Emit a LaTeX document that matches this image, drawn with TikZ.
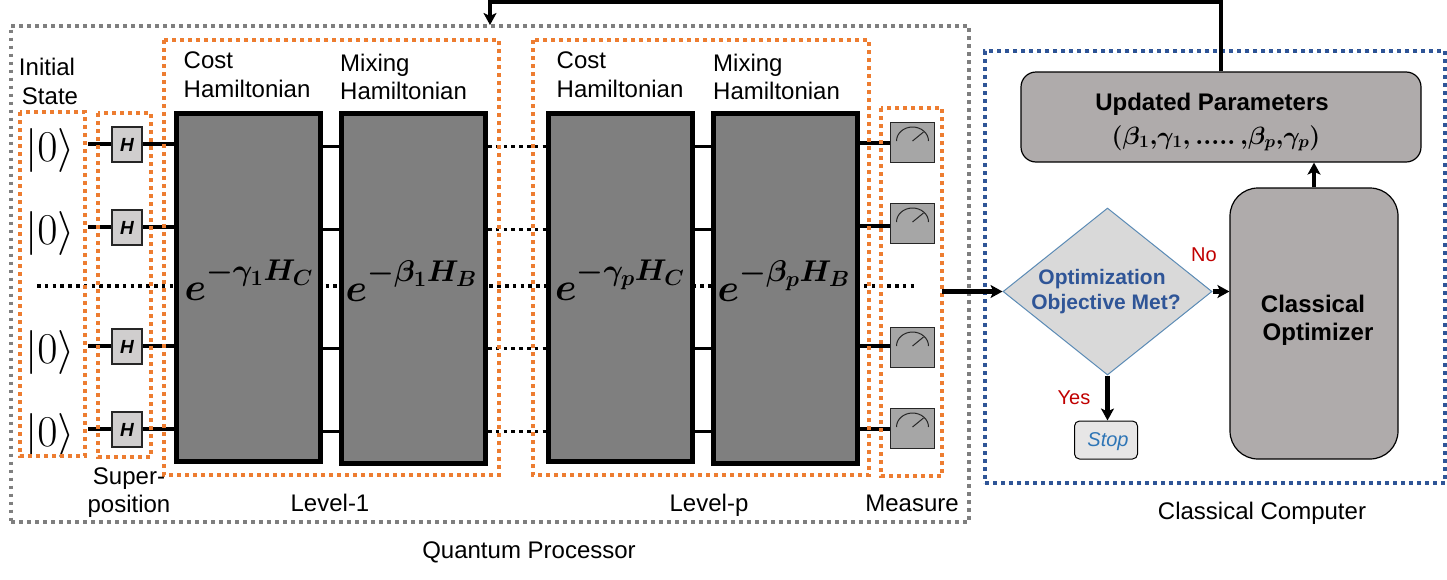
\documentclass[tikz,border=0pt]{standalone}
\usepackage{fix-cm}
\usepackage{fontspec}
\usepackage{amsmath}
\setmainfont{Liberation Sans}
\usetikzlibrary{arrows.meta,shapes.geometric}
\definecolor{orng}{HTML}{ED7D31}
\definecolor{grayd}{HTML}{7F7F7F}
\definecolor{blued}{HTML}{2F5597}
\definecolor{optgray}{HTML}{AFABAB}
\definecolor{gategray}{HTML}{D0CECE}
\definecolor{metergray}{HTML}{A6A6A6}
\definecolor{steel}{HTML}{5B8BB5}
\definecolor{stopblue}{HTML}{2E75B6}
\definecolor{stopfill}{HTML}{E7E6E6}
\definecolor{darkred}{HTML}{C00000}
\newcommand{\fs}[1]{\fontsize{#1}{#1}\selectfont}
\DeclareMathSizes{39}{39}{30}{22}
\newcommand{\hexp}[1]{$\boldsymbol{e}^{\raisebox{5pt}{$\scriptstyle\boldsymbol{#1}$}}$}
\tikzset{
 x=1pt,y=-1pt,
 orangebox/.style={draw=orng,line width=3.6pt,dash pattern=on 3.6pt off 4.4pt},
 graybox/.style={draw=grayd,line width=3.6pt,dash pattern=on 3.6pt off 4.4pt},
 bluebox/.style={draw=blued,line width=3.6pt,dash pattern=on 3.6pt off 4.4pt},
 hambox/.style={draw=black,line width=5pt,fill=grayd,minimum width=144pt,minimum height=348pt,inner sep=0pt},
 mixbox/.style={hambox,minimum height=350pt},
 gatebox/.style={draw=black!85,line width=2.4pt,fill=gategray,minimum width=30pt,minimum height=35pt,inner sep=0pt,font=\fs{19}\bfseries\itshape},
 meterbox/.style={draw=black!85,line width=1pt,fill=metergray,minimum width=44pt,minimum height=40pt,inner sep=0pt},
 wire/.style={draw=black,line width=3.5pt},
 dotwire/.style={draw=black,line width=3.4pt,dash pattern=on 3.6pt off 4.2pt},
 lbl/.style={inner sep=0pt,font=\fs{24},anchor=base},
 lblw/.style={inner sep=0pt,font=\fs{24},anchor=base west},
 ket/.style={inner sep=0pt,font=\fs{44},anchor=base},
 expr/.style={inner sep=0pt,font=\fs{39},text=black,anchor=base},
 flow/.style={draw=black,line width=4.2pt,-{Stealth[length=12pt,width=13pt,inset=3pt]}},
 procbox/.style={draw=black,line width=1.2pt,fill=optgray,inner sep=0pt},
 bold24/.style={inner sep=0pt,font=\fs{24}\bfseries,anchor=base},
 decisiontext/.style={inner sep=0pt,font=\fs{21}\bfseries,text=blued,anchor=base},
 answer/.style={inner sep=0pt,font=\fs{20},text=darkred,anchor=base},
}
\begin{document}
\begin{tikzpicture}
\useasboundingbox (0,0) rectangle (1447,579);
% dotted centre wire behind everything
\coordinate (dl) at (37,286);
\coordinate (dr) at (915,286);
\draw[dotwire] (dl) -- (dr);
% containers
\node[graybox,minimum width=958pt,minimum height=496pt,inner sep=0pt] (qp) at (490,273.7) {};
\node[bluebox,minimum width=460pt,minimum height=432pt,inner sep=0pt] (cc) at (1215,267) {};
% hamiltonian blocks
\node[hambox] (c1) at (248.5,287) {};
\node[mixbox] (m1) at (413.5,288) {};
\node[hambox] (cp) at (620.5,287) {};
\node[mixbox] (mp) at (785.5,288) {};
\node[expr] (e1) at (249,300) {\hexp{-\gamma_1 H_C}};
\node[expr] (e2) at (411.5,301) {\hexp{-\beta_1 H_B}};
\node[expr] (e3) at (620,300) {\hexp{-\gamma_p H_C}};
\node[expr] (e4) at (784,301) {\hexp{-\beta_p H_B}};
% kets and gates
\foreach \n/\y/\yb/\ym in {a/144/146.7/143,b/227/229.7/226,c/346/348.7/346,d/429/431.7/429}{
  \node[ket] (k\n) at (50,\y+17) {$|0\rangle$};
  \coordinate (ks\n) at (88,\y);
  \node[gatebox] (h\n) at (127,\y+.5) {H};
  \draw[wire] (ks\n) -- (ks\n -| h\n.west);
  \draw[wire] (h\n.east |- ks\n) -- (c1.west |- ks\n);
  \draw[wire] (c1.east |- 0,\yb) -- (m1.west |- 0,\yb);
  \draw[wire] (cp.east |- 0,\yb) -- (mp.west |- 0,\yb);
  \draw[dotwire] (m1.east |- 0,\yb) -- (cp.west |- 0,\yb);
  \coordinate (ws\n) at (890,\ym);
  \draw[wire] (mp.east |- ws\n) -- (ws\n);
}
% meters
\foreach \n/\y in {a/142,b/223,c/347,d/428}{
  \node[meterbox] (w\n) at (912.5,\y) {};
  \draw[draw=black!85,line width=1pt] ([shift={(-16,-1)}]w\n.center) arc[start angle=180,end angle=0,x radius=16pt,y radius=14pt];
  \draw[draw=black!85,line width=1pt] ([shift={(0,-1)}]w\n.center) -- ([shift={(11,-10)}]w\n.center);
}
% orange groups
\draw[orangebox] (20,112) rectangle (85,456);
\draw[orangebox] (98,113) rectangle (151,457);
\draw[orangebox] (164,40) rectangle (499,475);
\draw[orangebox] (533,40) rectangle (869,475);
\draw[orangebox] (881,108) rectangle (942,476);
% labels
\node[lbl] (l1) at (47,75) {Initial};
\node[lbl] (l2) at (50,104) {State};
\node[lblw] (l3) at (183.5,68) {Cost};
\node[lblw] (l4) at (183.5,97) {Hamiltonian};
\node[lblw] (l5) at (340,71) {Mixing};
\node[lblw] (l6) at (340,99) {Hamiltonian};
\node[lblw] (l7) at (556.5,68) {Cost};
\node[lblw] (l8) at (556.5,97) {Hamiltonian};
\node[lblw] (l9) at (713,71) {Mixing};
\node[lblw] (l10) at (713,99) {Hamiltonian};
\node[lbl] (l11) at (129,484) {Super-};
\node[lbl] (l12) at (129,512) {position};
\node[lbl] (l13) at (330,511.5) {Level-1};
\node[lbl] (l14) at (709,511) {Level-p};
\node[lbl] (l15) at (912,511) {Measure};
\node[lbl] (l16) at (529,558) {Quantum Processor};
\node[lbl] (l17) at (1262,519) {Classical Computer};
% classical side
\node[procbox,rounded corners=15pt,minimum width=400pt,minimum height=90pt] (up) at (1221,117) {};
\node[bold24] (upa) at (1212,110) {Updated Parameters};
\node[inner sep=0pt,font=\fs{25},anchor=base] (upb) at (1216,144) {$\boldsymbol{(\beta_1{,}\gamma_1{,}\,.....\,{,}\beta_p{,}\gamma_p)}$};
\node[procbox,rounded corners=28pt,minimum width=168pt,minimum height=271pt] (opt) at (1314,323.5) {};
\node[bold24] (optt1) at (1313,312) {Classical};
\node[bold24] (optt2) at (1318,340) {Optimizer};
\node[diamond,aspect=1.25,draw=steel,line width=1pt,fill=black!15,minimum width=209pt,minimum height=167pt,inner sep=0pt] (dec) at (1107.5,291.5) {};
\node[decisiontext] (dect1) at (1102,284) {Optimization};
\node[decisiontext] (dect2) at (1106,309) {Objective Met?};
\node[draw=black,line width=1pt,fill=stopfill,rounded corners=5pt,minimum width=63pt,minimum height=38pt,inner sep=0pt] (stop) at (1106,440) {};
\node[inner sep=0pt,font=\fs{20}\itshape,text=stopblue,anchor=base] (stopt) at (1108,446) {Stop};
\node[answer] (no) at (1204,261) {No};
\node[answer] (yes) at (1074,404) {Yes};
% connectors
\coordinate (ms) at (942,291.5);
\draw[flow] (ms) -- (dec.west);
\draw[flow] (dec.east) -- (opt.west |- dec.east);
\draw[flow] (dec.south) -- (stop.north -| dec.south);
\draw[flow] (opt.north) -- (up.south -| opt.north);
\coordinate (fbt) at (1221,2);
\coordinate (fbe) at (490,25);
\draw[draw=black,line width=4.2pt,-{Stealth[length=12pt,width=13pt,inset=3pt]}] (up.north -| fbt) -- (fbt) -| (fbe);
\end{tikzpicture}
\end{document}
